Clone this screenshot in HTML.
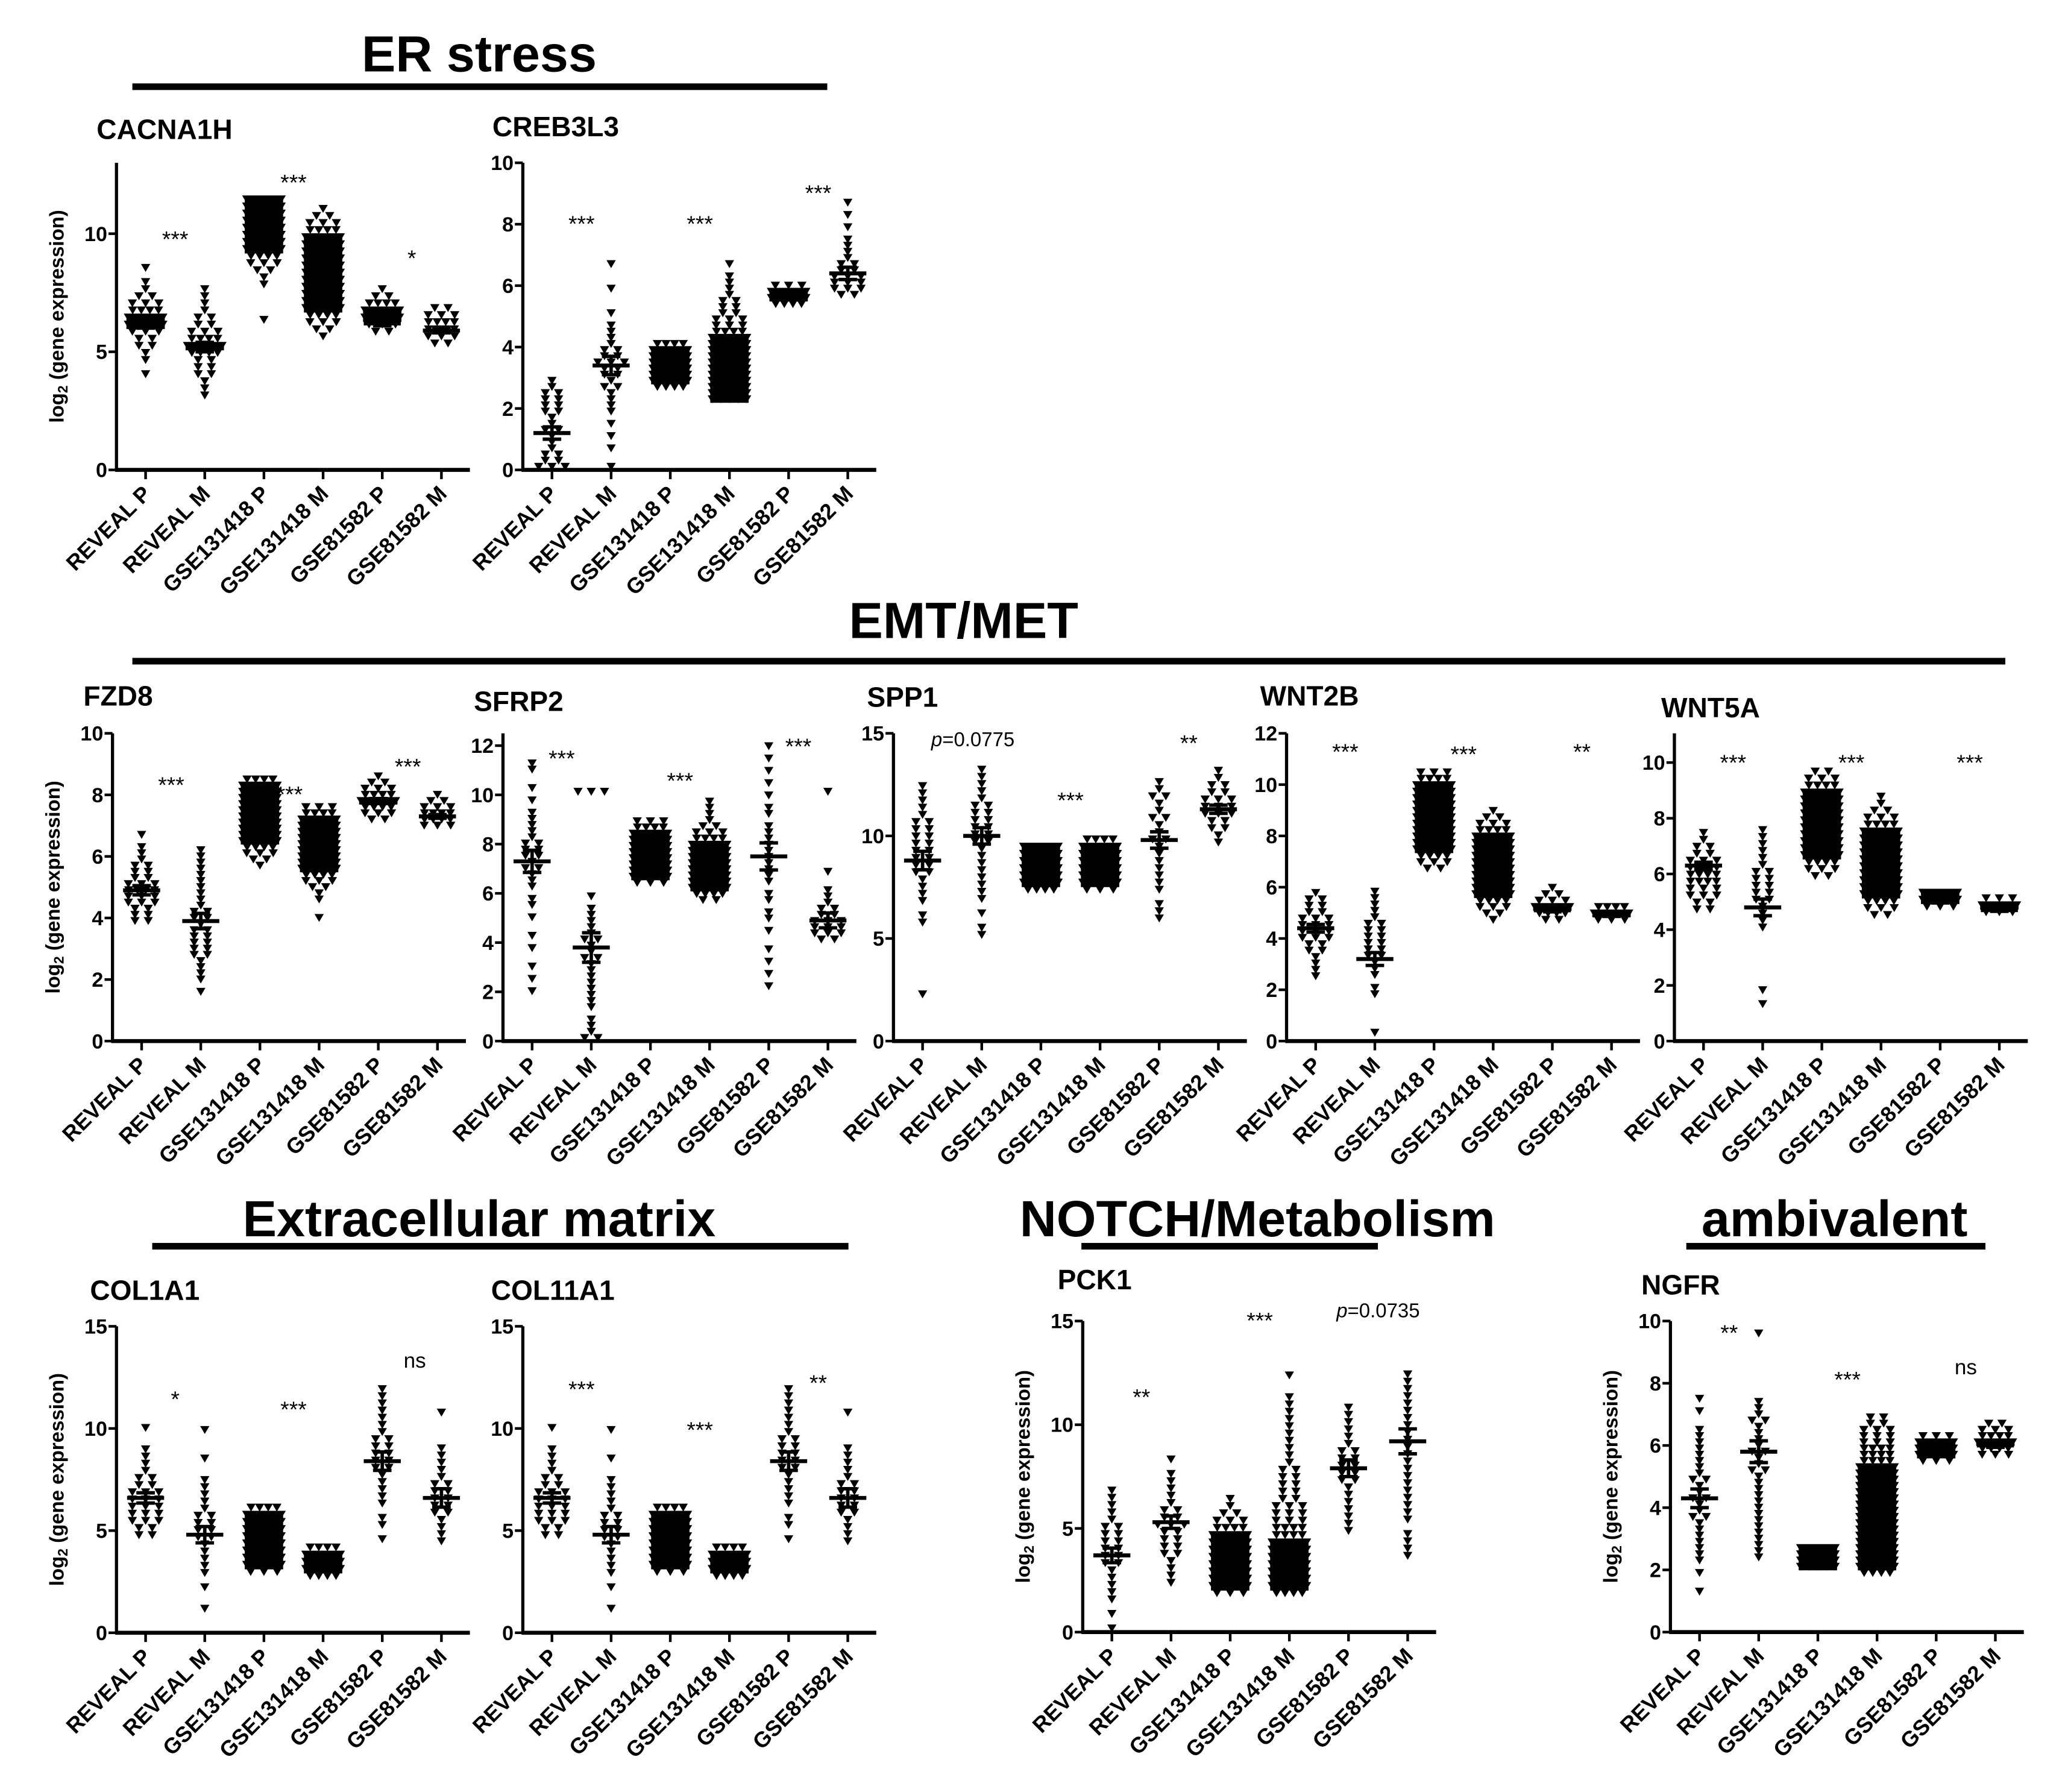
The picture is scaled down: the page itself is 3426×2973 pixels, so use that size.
<!DOCTYPE html>
<html><head><meta charset="utf-8"><style>
html,body{margin:0;padding:0;background:#fff;}
svg{display:block;}
text{font-family:"Liberation Sans",Arial,sans-serif;fill:#000;}
</style></head><body>
<svg id="fig" xmlns="http://www.w3.org/2000/svg" width="3426" height="2973" viewBox="0 0 1560.1 1353.8" preserveAspectRatio="none">
<g>
<text x="362" y="54" font-size="38.5" font-weight="bold" text-anchor="middle">ER stress</text>
<rect x="100" y="63" width="525" height="5"/>
</g>
<g>
<text x="728" y="482" font-size="38.5" font-weight="bold" text-anchor="middle">EMT/MET</text>
<rect x="100" y="497" width="1415" height="5"/>
</g>
<g>
<text x="362" y="934" font-size="38.5" font-weight="bold" text-anchor="middle">Extracellular matrix</text>
<rect x="115" y="939" width="526" height="5"/>
</g>
<g>
<text x="950" y="934" font-size="38.5" font-weight="bold" text-anchor="middle">NOTCH/Metabolism</text>
<rect x="817" y="939" width="224" height="5"/>
</g>
<g>
<text x="1386" y="934" font-size="38.5" font-weight="bold" text-anchor="middle">ambivalent</text>
<rect x="1274" y="939" width="226" height="5"/>
</g>
</svg>
<script>
const categories=["REVEAL P","REVEAL M","GSE131418 P","GSE131418 M","GSE81582 P","GSE81582 M"];

const cacna1hLo=[3.9,3.0,6.2,5.5,5.7,5.2];
const cacna1hBin=0.3;
const cacna1hCounts=[[1,0,1,1,2,2,3,5,5,4,3,2,1,1,0,1],[1,1,1,2,2,2,4,5,4,3,2,2,1,1,1,1],[1,0,0,0,0,1,1,2,3,4,5,6,7,7,7,7,7,6],[1,2,3,4,5,6,6,7,7,7,7,6,6,6,5,4,3,2,1],[2,3,5,5,4,2,1],[2,3,4,4,3,2]];
const cacna1hMean=[6.2,5.2,9.8,8.0,6.2,5.9];
const cacna1hSem=[0.2,0.2,0.12,0.15,0.1,0.1];
const cacna1hStars=[[0.5,10,"***"],[2.5,12.4,"***"],[4.5,9.2,"*"]];

const creb3l3Lo=[0,0,2.6,2.2,5.3,5.6];
const creb3l3Bin=0.2;
const creb3l3Counts=[[3,2,2,1,1,1,2,1,1,2,2,2,2,1,1],[1,0,0,1,0,1,0,1,0,1,1,1,1,2,1,2,2,3,2,2,1,1,1,1,0,1,0,0,0,1,0,0,0,1],[4,6,7,7,7,6,5,4],[5,6,7,7,7,7,7,6,6,5,5,4,3,3,2,2,2,1,1,1,1,0,1],[4,5,5,3],[2,3,3,3,2,2,1,1,1,1,0,1,0,1,0,1]];
const creb3l3Mean=[1.2,3.4,3.1,3.4,5.6,6.4];
const creb3l3Sem=[0.2,0.3,0.08,0.1,0.05,0.2];
const creb3l3Stars=[[0.5,8.2,"***"],[2.5,8.2,"***"],[4.5,9.2,"***"]];

const fzd8Lo=[3.8,1.5,5.6,3.9,7.1,6.9];
const fzd8Bin=0.2;
const fzd8Counts=[[2,2,2,3,3,4,3,2,2,2,1,1,1,0,1],[1,0,1,1,1,1,2,2,2,2,2,1,2,2,1,1,1,1,1,1,1,1,1,1],[1,2,3,4,5,6,6,7,7,7,7,7,6,5,4],[1,0,0,1,1,2,3,4,5,6,7,7,7,7,7,6,5,4,3],[2,3,4,5,4,3,2,1],[3,4,4,3,2,1]];
const fzd8Mean=[4.9,3.9,7.1,6.3,7.8,7.3];
const fzd8Sem=[0.15,0.25,0.06,0.08,0.08,0.06];
const fzd8Stars=[[0.5,8.5,"***"],[2.5,8.2,"***"],[4.5,9.1,"***"]];

const sfrp2Lo=[1.9,0,6.3,5.6,2.1,4.0];
const sfrp2Bin=0.25;
const sfrp2Counts=[[1,0,1,0,1,0,0,1,0,1,0,0,1,0,1,1,0,1,1,1,2,1,2,2,2,1,1,1,1,1,0,1,0,1,0,0,1,1],[2,1,1,1,0,1,1,1,1,1,1,1,1,2,1,1,2,1,1,1,1,1,0,1,0,0,0,0,0,0,0,0,0,0,0,0,0,0,0,0,3],[3,5,6,7,7,7,7,6,5,4,3],[2,4,5,6,7,7,7,7,6,5,4,3,2,1,1,1,1],[1,0,1,0,1,0,1,0,0,1,0,1,1,0,1,1,0,1,1,1,1,1,1,1,1,1,1,0,1,1,0,1,0,1,0,1,0,1,0,1],[2,3,3,3,2,2,1,1,1,0,0,1,0,0,0,0,0,0,0,0,0,0,0,0,1]];
const sfrp2Mean=[7.3,3.8,7.5,7.1,7.5,4.9];
const sfrp2Sem=[0.45,0.6,0.08,0.1,0.55,0.3];
const sfrp2Stars=[[0.5,11.7,"***"],[2.5,10.8,"***"],[4.5,12.2,"***"]];

const spp1Lo=[2.1,5.0,7.2,7.2,5.8,9.5];
const spp1Bin=0.35;
const spp1Counts=[[1,0,0,0,0,0,0,0,0,0,1,1,0,1,1,1,1,2,2,2,2,2,2,2,2,1,1,1,1,1],[1,1,0,1,0,1,1,1,1,1,1,1,1,2,2,2,2,2,2,1,1,1,1,1],[4,6,7,7,7,7,6],[3,5,7,7,7,7,6,4],[1,1,1,0,1,1,1,1,1,1,1,2,1,1,2,1,1,2,1,1],[1,1,2,2,3,3,3,2,2,1,1]];
const spp1Mean=[8.8,10.0,8.4,8.5,9.8,11.3];
const spp1Sem=[0.45,0.4,0.06,0.06,0.4,0.2];
const spp1Stars=[[0.85,14.7,"p=0.0775"],[2.5,12,"***"],[4.5,14.8,"**"]];

const wnt2bLo=[2.4,0.2,6.6,4.6,4.6,4.6];
const wnt2bBin=0.25;
const wnt2bCounts=[[1,1,1,1,2,2,3,3,3,3,2,2,2,1],[1,0,0,0,0,0,1,1,0,1,1,1,2,2,2,2,2,2,1,1,1,1,1],[2,3,4,5,6,7,7,7,7,7,7,7,6,5,4,3],[1,2,3,4,5,6,7,7,7,7,7,7,6,5,4,3,2,1],[2,4,5,3,2,1],[3,5,4]];
const wnt2bMean=[4.4,3.2,8.6,7.0,5.1,4.9];
const wnt2bSem=[0.15,0.25,0.08,0.1,0.06,0.04];
const wnt2bStars=[[0.5,11.5,"***"],[2.5,11.4,"***"],[4.5,11.5,"**"]];

const wnt5aLo=[4.6,1.2,5.8,4.4,4.7,4.5];
const wnt5aBin=0.25;
const wnt5aCounts=[[2,2,3,3,4,4,3,3,2,2,1,1],[1,0,1,0,0,0,0,0,0,0,0,1,1,1,1,2,2,2,2,2,1,1,1,1,1,1],[2,3,4,5,6,7,7,7,7,7,7,6,5,4,3,2],[2,3,4,5,6,7,7,7,7,7,6,6,5,4,3,2,1,1],[3,6,5],[3,5,3]];
const wnt5aMean=[6.3,4.8,7.5,6.4,5.0,4.7];
const wnt5aSem=[0.12,0.3,0.08,0.1,0.04,0.04];
const wnt5aStars=[[0.5,10.2,"***"],[2.5,10.2,"***"],[4.5,10.2,"***"]];

const col1a1Lo=[4.6,1.0,2.8,2.6,4.4,4.3];
const col1a1Bin=0.35;
const col1a1Counts=[[2,2,3,3,3,3,3,2,2,1,1,1,1,0,0,1],[1,0,0,1,0,1,1,1,1,1,2,2,2,2,1,1,1,1,1,0,0,1,0,0,0,1],[3,5,6,7,7,7,7,6,5,4],[4,6,7,6,4],[1,0,1,1,0,1,1,1,1,1,2,2,2,2,2,1,1,1,1,1,1,1],[1,1,1,1,2,2,2,2,2,1,1,1,1,1,0,0,0,0,1]];
const col1a1Mean=[6.6,4.8,4.3,3.2,8.4,6.6];
const col1a1Sem=[0.25,0.4,0.08,0.05,0.45,0.45];
const col1a1Stars=[[0.5,11.7,"*"],[2.5,11.2,"***"],[4.55,13.3,"ns"]];

const col11a1Lo=[4.6,1.0,2.8,2.6,4.4,4.3];
const col11a1Bin=0.35;
const col11a1Counts=[[2,2,3,3,3,3,3,2,2,1,1,1,1,0,0,1],[1,0,0,1,0,1,1,1,1,1,2,2,2,2,1,1,1,1,1,0,0,1,0,0,0,1],[3,5,6,7,7,7,7,6,5,4],[4,6,7,6,4],[1,0,1,1,0,1,1,1,1,1,2,2,2,2,2,1,1,1,1,1,1,1],[1,1,1,1,2,2,2,2,2,1,1,1,1,1,0,0,0,0,1]];
const col11a1Mean=[6.6,4.8,4.3,3.2,8.4,6.6];
const col11a1Sem=[0.25,0.4,0.08,0.05,0.45,0.45];
const col11a1Stars=[[0.5,12.2,"***"],[2.5,10.2,"***"],[4.5,12.5,"**"]];

const pck1Lo=[0,2.2,1.7,1.7,4.7,3.5];
const pck1Bin=0.35;
const pck1Counts=[[1,0,1,0,1,1,1,1,1,2,2,2,2,2,2,1,1,1,1,1],[1,1,1,1,2,2,2,2,3,2,2,1,1,1,1,1,0,1],[3,5,6,7,7,7,7,6,5,4,3,2,1,1],[4,6,7,7,7,7,6,5,4,4,3,3,3,2,2,2,2,2,1,1,1,1,1,1,1,1,1,1,0,0,1],[1,1,1,1,1,1,1,2,2,2,2,2,1,1,1,1,1,1],[1,1,1,1,0,1,1,1,1,1,1,1,1,1,1,1,1,1,1,1,1,1,1,1,1,1]];
const pck1Mean=[3.7,5.3,3.2,4.0,7.9,9.2];
const pck1Sem=[0.35,0.3,0.1,0.2,0.4,0.6];
const pck1Stars=[[0.5,11.6,"**"],[2.5,15.3,"***"],[4.5,15.5,"p=0.0735"]];

const ngfrLo=[1.2,2.3,2.0,1.8,5.4,5.6];
const ngfrBin=0.2;
const ngfrCounts=[[1,0,0,1,0,1,1,1,1,1,1,1,2,1,1,2,1,1,2,1,1,1,1,1,1,1,1,0,0,1,0,1],[1,1,1,1,1,1,1,1,1,1,1,1,1,1,2,1,1,2,1,1,1,1,2,1,1,1,0,0,0,0,0,0,0,0,0,0,1],[5,7,7,6],[4,5,6,6,6,7,7,7,7,7,7,7,6,6,6,5,5,5,4,4,4,3,3,3,2,2],[3,5,6,5,3],[3,4,5,4,3,2]];
const ngfrMean=[4.3,5.8,2.4,4.2,5.9,6.0];
const ngfrSem=[0.3,0.35,0.03,0.12,0.06,0.06];
const ngfrStars=[[0.5,9.8,"**"],[2.5,8.3,"***"],[4.5,8.5,"ns"]];

const panels=[
 {id:"cacna1h",title:"CACNA1H",ylab:true,ax:88,top:123,y0:355,ymax:13,ticks:[0,5,10],tx:73,ty:105,lo:cacna1hLo,bin:cacna1hBin,counts:cacna1hCounts,mean:cacna1hMean,sem:cacna1hSem,stars:cacna1hStars},
 {id:"creb3l3",title:"CREB3L3",ylab:false,ax:395,top:123,y0:355,ymax:10,ticks:[0,2,4,6,8,10],tx:372,ty:103,lo:creb3l3Lo,bin:creb3l3Bin,counts:creb3l3Counts,mean:creb3l3Mean,sem:creb3l3Sem,stars:creb3l3Stars},
 {id:"fzd8",title:"FZD8",ylab:true,ax:85,top:554,y0:786.5,ymax:10,ticks:[0,2,4,6,8,10],tx:63,ty:533,lo:fzd8Lo,bin:fzd8Bin,counts:fzd8Counts,mean:fzd8Mean,sem:fzd8Sem,stars:fzd8Stars},
 {id:"sfrp2",title:"SFRP2",ylab:false,ax:380,top:554,y0:786.5,ymax:12.5,ticks:[0,2,4,6,8,10,12],tx:358,ty:537,lo:sfrp2Lo,bin:sfrp2Bin,counts:sfrp2Counts,mean:sfrp2Mean,sem:sfrp2Sem,stars:sfrp2Stars},
 {id:"spp1",title:"SPP1",ylab:false,ax:675,top:554,y0:786.5,ymax:15,ticks:[0,5,10,15],tx:655,ty:534,lo:spp1Lo,bin:spp1Bin,counts:spp1Counts,mean:spp1Mean,sem:spp1Sem,stars:spp1Stars},
 {id:"wnt2b",title:"WNT2B",ylab:false,ax:972,top:554,y0:786.5,ymax:12,ticks:[0,2,4,6,8,10,12],tx:952,ty:533,lo:wnt2bLo,bin:wnt2bBin,counts:wnt2bCounts,mean:wnt2bMean,sem:wnt2bSem,stars:wnt2bStars},
 {id:"wnt5a",title:"WNT5A",ylab:false,ax:1265,top:554,y0:786.5,ymax:11.05,ticks:[0,2,4,6,8,10],tx:1255,ty:542,lo:wnt5aLo,bin:wnt5aBin,counts:wnt5aCounts,mean:wnt5aMean,sem:wnt5aSem,stars:wnt5aStars},
 {id:"col1a1",title:"COL1A1",ylab:true,ax:88,top:1002,y0:1233.5,ymax:15,ticks:[0,5,10,15],tx:68,ty:982,lo:col1a1Lo,bin:col1a1Bin,counts:col1a1Counts,mean:col1a1Mean,sem:col1a1Sem,stars:col1a1Stars},
 {id:"col11a1",title:"COL11A1",ylab:false,ax:395,top:1002,y0:1233.5,ymax:15,ticks:[0,5,10,15],tx:371,ty:982,lo:col11a1Lo,bin:col11a1Bin,counts:col11a1Counts,mean:col11a1Mean,sem:col11a1Sem,stars:col11a1Stars},
 {id:"pck1",title:"PCK1",ylab:true,ax:818,top:998,y0:1233,ymax:15,ticks:[0,5,10,15],tx:799,ty:974,lo:pck1Lo,bin:pck1Bin,counts:pck1Counts,mean:pck1Mean,sem:pck1Sem,stars:pck1Stars},
 {id:"ngfr",title:"NGFR",ylab:true,ax:1262,top:998,y0:1233,ymax:10,ticks:[0,2,4,6,8,10],tx:1240,ty:978,lo:ngfrLo,bin:ngfrBin,counts:ngfrCounts,mean:ngfrMean,sem:ngfrSem,stars:ngfrStars}
];

const NS="http://www.w3.org/2000/svg";
const svg=document.getElementById("fig");
function mk(tag,attrs,parent){const e=document.createElementNS(NS,tag);for(const k in attrs)e.setAttribute(k,attrs[k]);parent.appendChild(e);return e;}

panels.forEach(p=>{
  const g=mk("g",{},svg);
  
  
  const ys=v=>p.y0-(v/p.ymax)*(p.y0-p.top);
  const xs=i=>p.ax+22+i*44.7;
  const xend=p.ax+267;
  const binPx=p.bin*(p.y0-p.top)/p.ymax;
  const t=mk("text",{x:p.tx,y:p.ty,"font-size":21,"font-weight":"bold"},g);
  t.textContent=p.title;
  
  
  const ya=mk("line",{x1:p.ax,y1:p.top,x2:p.ax,y2:p.y0,stroke:"#000","stroke-width":2.4},g);
  
  
  p.ticks.forEach(v=>{
    const tk=mk("line",{x1:p.ax-6,y1:ys(v),x2:p.ax,y2:ys(v),stroke:"#000","stroke-width":2},g);
    
    
    const tl=mk("text",{x:p.ax-7,y:ys(v)+5.5,"font-size":15.5,"font-weight":"bold","text-anchor":"end"},g);
    tl.textContent=String(v);
    
    
  });
  if(p.ylab){
    const my=(p.top+p.y0)/2, lx=p.ax-40;
    const yl=mk("text",{x:lx,y:my,"font-size":15,"font-weight":"bold","text-anchor":"middle",transform:`rotate(-90 ${lx} ${my})`},g);
    
    
    yl.appendChild(document.createTextNode("log"));
    const sub=mk("tspan",{"font-size":10.5,dy:3},yl);sub.textContent="2";
    const rest=mk("tspan",{dy:-3},yl);rest.textContent=" (gene expression)";
  }
  const xa=mk("line",{x1:p.ax-1,y1:p.y0,x2:xend,y2:p.y0,stroke:"#000","stroke-width":3},g);
  
  
  categories.forEach((c,i)=>{
    const x=xs(i);
    const tk=mk("line",{x1:x,y1:p.y0,x2:x,y2:p.y0+7,stroke:"#000","stroke-width":2},g);
    
    
    const lx=x+5,ly=p.y0+19;
    const tl=mk("text",{x:lx,y:ly,"font-size":16.5,"font-weight":"bold","text-anchor":"end",transform:`rotate(-45 ${lx} ${ly})`},g);
    tl.textContent=c;
    
    
    const gg=mk("g",{},g);
    
    
    let d="";
    p.counts[i].forEach((n,b)=>{
      if(!n)return;
      const v=p.lo[i]+(b+0.5)*p.bin;
      const cy=ys(v);
      const sp=n<=3?10:Math.min(6.5,26/(n-1));
      for(let j=0;j<n;j++){
        const cx=x+(j-(n-1)/2)*sp;
        d+=`M${(cx-3.5).toFixed(2)} ${(cy-3).toFixed(2)}L${(cx+3.5).toFixed(2)} ${(cy-3).toFixed(2)}L${cx.toFixed(2)} ${(cy+3).toFixed(2)}Z`;
      }
      if(n>=5){
        const hw=(n-1)/2*sp+1.5;
        const h=Math.max(binPx+1,4);
        d+=`M${(x-hw).toFixed(2)} ${(cy-3).toFixed(2)}H${(x+hw).toFixed(2)}V${(cy-3+h).toFixed(2)}H${(x-hw).toFixed(2)}Z`;
      }
    });
    const pts=mk("path",{d:d,fill:"#000"},gg);
    
    
    const m=p.mean[i],s=p.sem[i];
    const ml=mk("line",{x1:x-14,y1:ys(m),x2:x+14,y2:ys(m),stroke:"#000","stroke-width":3},gg);
    
    
    const eb=mk("path",{d:`M${x} ${ys(m+s)}L${x} ${ys(m-s)}M${x-7} ${ys(m+s)}L${x+7} ${ys(m+s)}M${x-7} ${ys(m-s)}L${x+7} ${ys(m-s)}`,stroke:"#000","stroke-width":2.6,fill:"none"},gg);
    
    
  });
  p.stars.forEach(s=>{
    const x=xs(s[0]),y=ys(s[1]);
    let st;
    if(s[2].startsWith("p=")){
      st=mk("text",{x:x,y:y+5,"font-size":15,"text-anchor":"middle"},g);
      const it=mk("tspan",{"font-style":"italic"},st);it.textContent="p";
      st.appendChild(document.createTextNode(s[2].slice(1)));
    } else {
      st=mk("text",{x:x,y:y+(s[2]==="ns"?5:10),"font-size":s[2]==="ns"?16:17,"text-anchor":"middle"},g);
      st.textContent=s[2];
    }
    
    
  });
});
</script>
</body></html>
